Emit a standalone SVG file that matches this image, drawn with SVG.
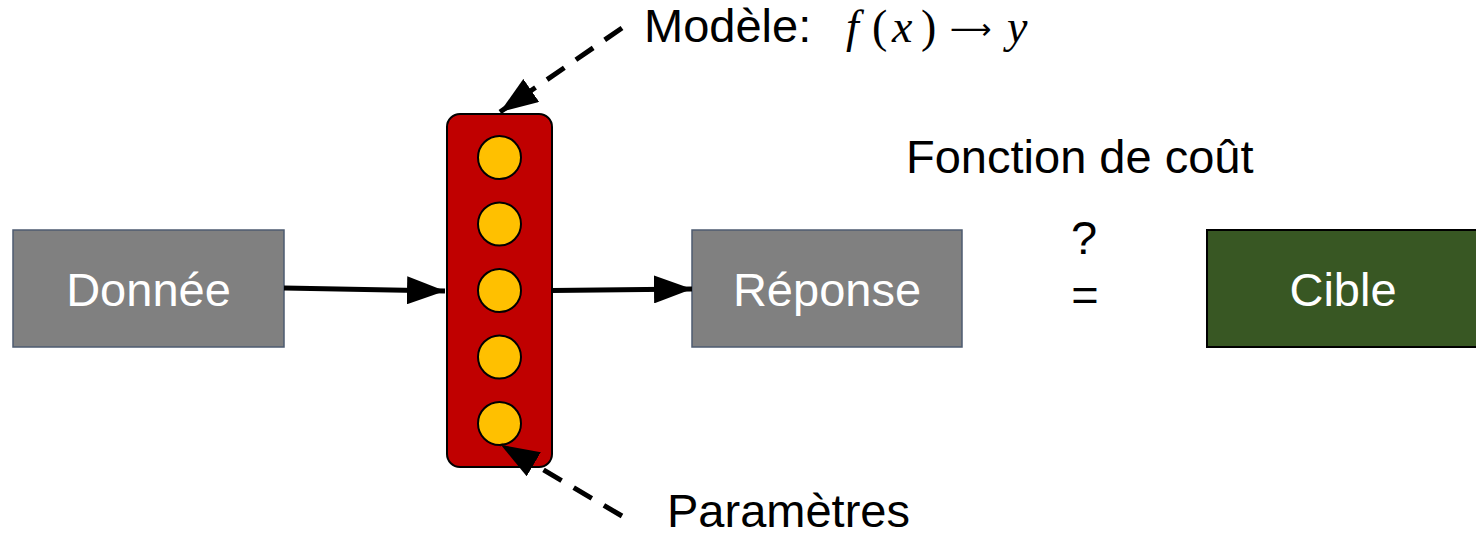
<svg xmlns="http://www.w3.org/2000/svg" width="1476" height="537" viewBox="0 0 1476 537">
  <style>
    .lbl { font-family: "Liberation Sans", Arial, sans-serif; font-size: 47px; }
    .dark { fill: #000000; }
    .light { fill: #ffffff; }
    .box { fill: #808080; stroke: #4d5b70; stroke-width: 1.5; }
    .math { font-family: "Liberation Serif", "DejaVu Serif", serif; font-size: 46px; fill: #000000; }
    .it { font-style: italic; }
    .arrowsym { font-family: "DejaVu Sans", sans-serif; font-size: 29px; }
    .solid { stroke: #000000; stroke-width: 5; fill: none; }
    .dashed { stroke: #000000; stroke-width: 5; stroke-dasharray: 21 14; fill: none; }
    .param { fill: #ffc000; stroke: #000000; stroke-width: 2; }
  </style>
  <defs>
    <marker id="head" markerUnits="userSpaceOnUse" viewBox="0 0 38 28" refX="38" refY="14" markerWidth="38" markerHeight="28" orient="auto">
      <polygon points="0,0 38,14 0,28" fill="#000000"/>
    </marker>
  </defs>
  <rect width="1476" height="537" fill="#ffffff"/>

  <g id="donnee">
    <rect class="box" x="13" y="230" width="271" height="117"/>
    <text class="lbl light" x="148.5" y="306" text-anchor="middle">Donnée</text>
  </g>

  <g id="modele">
    <rect x="447" y="114" width="105" height="353" rx="13" fill="#c00000" stroke="#000000" stroke-width="2"/>
    <circle class="param" cx="499.5" cy="157.5" r="21.5"/>
    <circle class="param" cx="499.5" cy="224" r="21.5"/>
    <circle class="param" cx="499.5" cy="290.5" r="21.5"/>
    <circle class="param" cx="499.5" cy="357" r="21.5"/>
    <circle class="param" cx="499.5" cy="423.5" r="21.5"/>
  </g>

  <g id="reponse">
    <rect class="box" x="692" y="230" width="270" height="117"/>
    <text class="lbl light" x="827" y="306" text-anchor="middle">Réponse</text>
  </g>

  <g id="cible">
    <rect x="1207" y="230" width="275" height="117" fill="#385723" stroke="#000000" stroke-width="2"/>
    <text class="lbl light" x="1343" y="306" text-anchor="middle">Cible</text>
  </g>

  <g id="modele-label">
    <text class="lbl dark" x="644" y="42">Modèle:</text>
    <text class="math" y="42"><tspan class="it" x="846">f</tspan><tspan x="872">(</tspan><tspan class="it" x="892">x</tspan><tspan x="921">)</tspan><tspan class="arrowsym" x="950" y="39">⟶</tspan><tspan class="it" x="1007" y="42">y</tspan></text>
  </g>

  <g id="cout">
    <text class="lbl dark" x="906" y="173">Fonction de coût</text>
    <text class="lbl dark" x="1084" y="254" text-anchor="middle">?</text>
    <text class="lbl dark" x="1085" y="311" text-anchor="middle">=</text>
  </g>

  <g id="parametres-label">
    <text class="lbl dark" x="667" y="527">Paramètres</text>
  </g>

  <g id="connectors">
    <line class="solid" x1="284" y1="288" x2="445" y2="291" marker-end="url(#head)"/>
    <line class="solid" x1="552" y1="290.5" x2="692" y2="289" marker-end="url(#head)"/>
    <line class="dashed" x1="622" y1="28" x2="500" y2="112" marker-end="url(#head)"/>
    <line class="dashed" x1="622" y1="516" x2="501" y2="445" marker-end="url(#head)"/>
  </g>
</svg>
